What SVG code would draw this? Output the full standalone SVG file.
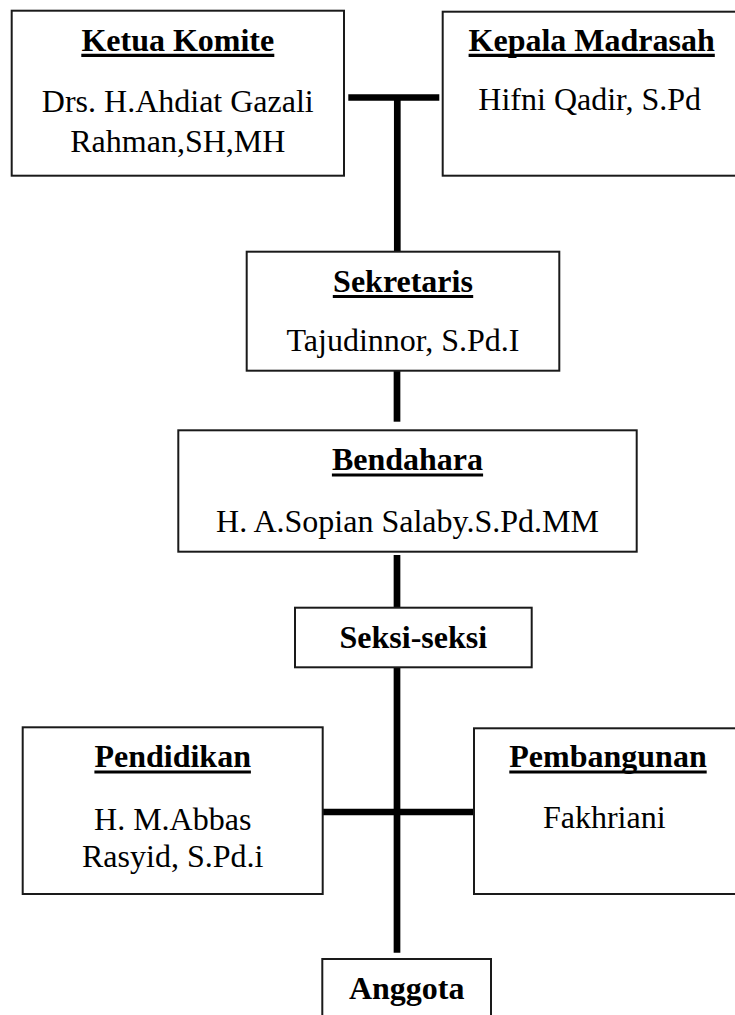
<svg xmlns="http://www.w3.org/2000/svg" width="735" height="1015" viewBox="0 0 735 1015">
<style>
.box{fill:#fff;stroke:#1a1a1a;stroke-width:2}
.t{font-family:"Liberation Serif","Times New Roman",serif;font-size:32px;font-weight:bold;text-anchor:middle;fill:#000}
.n{font-family:"Liberation Serif","Times New Roman",serif;font-size:32px;text-anchor:middle;fill:#000}
.ul{stroke:#000;stroke-width:3.2}
.c{stroke:#000;stroke-width:6.7;fill:none}
</style>
<rect width="735" height="1015" fill="#fff"/>
<g id="connectors">
<line class="c" x1="348.3" y1="97.5" x2="439.3" y2="97.5"/>
<line class="c" x1="397.3" y1="97.5" x2="397.3" y2="251"/>
<line class="c" x1="397" y1="365" x2="397" y2="421.7"/>
<line class="c" x1="397" y1="555" x2="397" y2="611.7"/>
<line class="c" x1="397" y1="667" x2="397" y2="952.7"/>
<line class="c" x1="323" y1="812" x2="473" y2="812"/>
</g>
<g id="ketua">
<rect class="box" x="11.7" y="10.7" width="332.3" height="165"/>
<text class="t" x="177.8" y="51">Ketua Komite</text>
<line class="ul" x1="81.3" y1="55.3" x2="274.3" y2="55.3"/>
<text class="n" x="177.8" y="111.7">Drs. H.Ahdiat Gazali</text>
<text class="n" x="177.8" y="151.7">Rahman,SH,MH</text>
</g>
<g id="kepala">
<rect class="box" x="442.7" y="11.7" width="300" height="164"/>
<text class="t" x="591.7" y="51">Kepala Madrasah</text>
<line class="ul" x1="468.6" y1="55.3" x2="714.8" y2="55.3"/>
<text class="n" x="589.7" y="110">Hifni Qadir, S.Pd</text>
</g>
<g id="sekretaris">
<rect class="box" x="246.7" y="251.7" width="312.6" height="119"/>
<text class="t" x="403" y="291.7">Sekretaris</text>
<line class="ul" x1="332.8" y1="296.5" x2="473.2" y2="296.5"/>
<text class="n" x="403" y="351">Tajudinnor, S.Pd.I</text>
</g>
<g id="bendahara">
<rect class="box" x="178.3" y="430.3" width="458.4" height="121.4"/>
<text class="t" x="407.5" y="470">Bendahara</text>
<line class="ul" x1="331.9" y1="475" x2="483.1" y2="475"/>
<text class="n" x="407.5" y="531.7">H. A.Sopian Salaby.S.Pd.MM</text>
</g>
<g id="seksi">
<rect class="box" x="295" y="607.7" width="236.7" height="59.6"/>
<text class="t" x="413.3" y="648.3">Seksi-seksi</text>
</g>
<g id="pendidikan">
<rect class="box" x="22.7" y="727.3" width="300" height="166.7"/>
<text class="t" x="172.7" y="767.3">Pendidikan</text>
<line class="ul" x1="94.4" y1="772" x2="250.9" y2="772"/>
<text class="n" x="172.7" y="830">H. M.Abbas</text>
<text class="n" x="172.7" y="866.7">Rasyid, S.Pd.i</text>
</g>
<g id="pembangunan">
<rect class="box" x="474" y="728.3" width="270" height="165.7"/>
<text class="t" x="608" y="767.3">Pembangunan</text>
<line class="ul" x1="509.3" y1="772" x2="706.7" y2="772"/>
<text class="n" x="604.2" y="828.3">Fakhriani</text>
</g>
<g id="anggota">
<rect class="box" x="322.3" y="959" width="168.7" height="70"/>
<text class="t" x="406.7" y="999">Anggota</text>
</g>
</svg>
